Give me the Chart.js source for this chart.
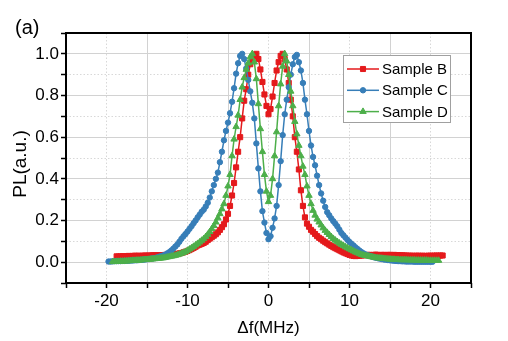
<!DOCTYPE html>
<html><head><meta charset="utf-8">
<script src="https://cdn.jsdelivr.net/npm/chart.js@4.4.0/dist/chart.umd.min.js"></script>
<style>html,body{margin:0;padding:0;background:#fff;overflow:hidden}canvas{display:block}</style>
</head><body>
<canvas id="c" width="508" height="341"></canvas>
<script>
// Frequency detuning (MHz)
const freq = [
  -19.75,-19.5,-19.25,
  -19,-18.75,-18.5,-18.25, -18,-17.75,-17.5,-17.25, -17,-16.75,-16.5,-16.25, -16,-15.75,-15.5,-15.25,
  -15,-14.75,-14.5,-14.25, -14,-13.75,-13.5,-13.25, -13,-12.75,-12.5,-12.25, -12,-11.75,-11.5,-11.25,
  -11,-10.75,-10.5,-10.25, -10,-9.75,-9.5,-9.25, -9,-8.75,-8.5,-8.25,
  -8,-7.75,-7.5,-7.25, -7,-6.75,-6.5,-6.25, -6,-5.75,-5.5,-5.25, -5,-4.75,-4.5,-4.25,
  -4,-3.75,-3.5,-3.25, -3,-2.75,-2.5,-2.25, -2,-1.75,-1.5,-1.25, -1,-0.75,-0.5,-0.25,
  0,0.25,0.5,0.75, 1,1.25,1.5,1.75, 2,2.25,2.5,2.75, 3,3.25,3.5,3.75,
  4,4.25,4.5,4.75, 5,5.25,5.5,5.75, 6,6.25,6.5,6.75, 7,7.25,7.5,7.75, 8,
  8.25,8.5,8.75,
  9,9.25,9.5,9.75, 10,10.25,10.5,10.75, 11,11.25,11.5,11.75, 12,12.25,12.5,12.75,
  13,13.25,13.5,13.75, 14,14.25,14.5,14.75, 15,15.25,15.5,15.75, 16,16.25,16.5,16.75,
  17,17.25,17.5,17.75, 18,18.25,18.5,18.75, 19,19.25,19.5,19.75, 20,20.25,20.5,20.75,
  21,21.25,21.5
];
const sampleB = [
  null,null,null,
  null,0.028,0.027,0.028, 0.029,0.028,0.029,0.03, 0.029,0.03,0.031,0.03, 0.031,0.03,0.031,0.032,
  0.031,0.032,0.032,0.033, 0.033,0.033,0.034,0.034, 0.034,0.035,0.035,0.036, 0.037,0.038,0.039,0.04,
  0.042,0.044,0.047,0.05, 0.054,0.058,0.063,0.068, 0.074,0.08,0.084,0.088,
  0.092,0.098,0.106,0.113, 0.12,0.127,0.134,0.143, 0.155,0.168,0.182,0.205, 0.232,0.27,0.32,0.38,
  0.455,0.53,0.6,0.69, 0.775,0.83,0.9,0.95, 0.975,0.99,1.0,0.975, 0.925,0.865,0.805,0.75,
  0.71,0.735,0.795,0.86, 0.92,0.96,0.99,1.0, 0.975,0.925,0.86,0.78, 0.7,0.6,0.53,0.445,
  0.345,0.27,0.215,0.185, 0.17,0.155,0.146,0.135, 0.125,0.117,0.11,0.103, 0.096,0.09,0.084,0.078, 0.072,
  0.067,0.062,0.057,
  0.052,0.047,0.043,0.039, 0.035,0.032,0.03,0.029, 0.03,0.031,0.032,0.033, 0.034,0.035,0.035,0.034,
  0.035,0.036,0.035,0.034, 0.035,0.035,0.034,0.035, 0.035,0.034,0.035,0.034, 0.034,0.033,0.033,0.032,
  0.032,0.031,0.031,0.031, 0.03,0.031,0.031,0.03, 0.031,0.03,0.03,0.031, 0.031,0.031,0.031,0.032,
  0.031,0.032,0.032
];
const sampleC = [
  0.003,0.003,0.004,
  0.005,0.005,0.005,0.005, 0.006,0.006,0.007,0.007, 0.008,0.008,0.009,0.009, 0.01,0.011,0.012,0.013,
  0.014,0.015,0.017,0.018, 0.02,0.023,0.026,0.029, 0.032,0.036,0.042,0.048, 0.056,0.065,0.075,0.085,
  0.098,0.112,0.124,0.135, 0.147,0.16,0.173,0.187, 0.2,0.215,0.228,0.242,
  0.252,0.267,0.285,0.31, 0.34,0.37,0.40,0.43, 0.48,0.53,0.585,0.63, 0.67,0.715,0.77,0.835,
  0.905,0.955,0.99,1.0, 0.975,0.93,0.875,0.82, 0.765,0.69,0.57,0.45, 0.34,0.245,0.19,0.14,
  0.11,0.125,0.165,0.21, 0.27,0.37,0.485,0.61, 0.71,0.78,0.84,0.9, 0.95,0.985,0.995,0.96,
  0.92,0.86,0.78,0.71, 0.63,0.56,0.505,0.465, 0.415,0.37,0.33,0.295, 0.265,0.24,0.225,0.21, 0.197,
  0.185,0.172,0.156,
  0.14,0.129,0.118,0.107, 0.097,0.088,0.08,0.071, 0.063,0.055,0.048,0.042, 0.037,0.033,0.03,0.027,
  0.024,0.021,0.019,0.017, 0.015,0.013,0.012,0.01, 0.009,0.008,0.007,0.006, 0.005,0.005,0.004,0.004,
  0.003,0.003,0.003,0.003, 0.002,0.002,0.002,0.002, 0.002,0.002,0.002,0.002, 0.002,0.002,null,null,
  null,null,null
];
const sampleD = [
  null,null,0.002,
  0.002,0.003,0.003,0.004, 0.004,0.005,0.005,0.006, 0.007,0.008,0.008,0.009, 0.009,0.01,0.011,0.012,
  0.012,0.013,0.014,0.015, 0.016,0.017,0.018,0.019, 0.02,0.022,0.024,0.026, 0.028,0.03,0.032,0.035,
  0.038,0.042,0.046,0.05, 0.056,0.062,0.068,0.075, 0.082,0.089,0.096,0.104,
  0.112,0.122,0.133,0.146, 0.16,0.175,0.192,0.212, 0.232,0.255,0.28,0.32, 0.365,0.42,0.51,0.59,
  0.65,0.705,0.78,0.84, 0.885,0.925,0.955,0.985, 1.0,0.96,0.88,0.76, 0.64,0.53,0.42,0.34,
  0.29,0.32,0.40,0.51, 0.625,0.75,0.855,0.94, 1.0,0.965,0.9,0.82, 0.75,0.675,0.615,0.56,
  0.51,0.46,0.42,0.365, 0.32,0.28,0.248,0.225, 0.206,0.192,0.178,0.164, 0.152,0.142,0.132,0.122, 0.113,
  0.105,0.098,0.091,
  0.085,0.079,0.073,0.068, 0.063,0.058,0.053,0.048, 0.044,0.04,0.036,0.033, 0.031,0.029,0.027,0.025,
  0.023,0.021,0.02,0.019, 0.018,0.017,0.016,0.015, 0.014,0.013,0.013,0.012, 0.012,0.011,0.011,0.011,
  0.011,0.01,0.01,0.01, 0.01,0.009,0.009,0.009, 0.009,0.009,0.009,0.008, 0.008,0.008,0.008,0.008,
  0.008,null,null
];
const seriesNames = ['Sample B','Sample C','Sample D'];
const xTickLabels = [-20,-10,0,10,20];
const yTickLabels = ['0.0','0.2','0.4','0.6','0.8','1.0'];

const FONT = "'Liberation Sans', Arial, sans-serif";
Chart.defaults.font.family = FONT;
Chart.defaults.color = '#000';

function pts(ys){ const out=[]; freq.forEach((x,i)=>{ if(ys[i]!==null && ys[i]!==undefined) out.push({x:x,y:ys[i]}); }); return out; }

const styles = [
  {color:'#E41A1C', pointStyle:'rect', r:3.6, order:3},
  {color:'#377EB8', pointStyle:'circle', r:2.7, order:2},
  {color:'#4DAF4A', pointStyle:'triangle', r:3.7, order:1}
];
const seriesData = [sampleB, sampleC, sampleD];

const datasets = seriesData.map((ys,i)=>({
  label: seriesNames[i], data: pts(ys),
  borderColor: styles[i].color, backgroundColor: styles[i].color,
  pointBackgroundColor: styles[i].color, pointBorderColor: styles[i].color,
  pointStyle: styles[i].pointStyle, pointRadius: styles[i].r, pointBorderWidth: 1,
  borderWidth: 1.5, tension: 0, order: styles[i].order, fill:false
}));

const SOLID = '#d2d2d2', DOTTED = '#d8d8d8';
function xMinor(ctx){ return ctx.tick && Math.round(ctx.tick.value) % 10 === 0; }
function yMinor(ctx){ return ctx.tick && Math.abs(Math.round(ctx.tick.value*10)) % 2 === 1; }

const framePlugin = {
  id:'frameLegend',
  afterDraw(chart){
    const ctx = chart.ctx, a = chart.chartArea;
    ctx.save();
    ctx.strokeStyle = '#000'; ctx.lineWidth = 2;
    ctx.strokeRect(a.left, a.top, a.right - a.left, a.bottom - a.top);
    const bx = 343.5, by = 55.5, bw = 107, bh = 67;
    ctx.fillStyle = '#fff'; ctx.fillRect(bx, by, bw, bh);
    ctx.strokeStyle = '#a0a0a0'; ctx.lineWidth = 1; ctx.strokeRect(bx, by, bw, bh);
    chart.data.datasets.forEach((ds, i) => {
      const y = 69 + i * 21.3;
      ctx.strokeStyle = ds.borderColor; ctx.lineWidth = 1.5;
      ctx.beginPath(); ctx.moveTo(347, y); ctx.lineTo(379, y); ctx.stroke();
      ctx.fillStyle = ds.pointBackgroundColor; ctx.strokeStyle = ds.pointBorderColor; ctx.lineWidth = 1;
      if (Chart.helpers && Chart.helpers.drawPoint) {
        Chart.helpers.drawPoint(ctx, {pointStyle: ds.pointStyle, radius: ds.pointRadius, rotation: 0, borderWidth: 1}, 363, y);
      }
      ctx.fillStyle = '#000'; ctx.font = '15px ' + FONT;
      ctx.textAlign = 'left'; ctx.textBaseline = 'middle';
      ctx.fillText(ds.label, 382, y + 1);
    });
    ctx.fillStyle = '#000'; ctx.font = '20px ' + FONT;
    ctx.textAlign = 'left'; ctx.textBaseline = 'alphabetic';
    ctx.fillText('(a)', 15, 34);
    ctx.save();
    ctx.translate(21, 164); ctx.rotate(-Math.PI/2);
    ctx.font = '19px ' + FONT; ctx.textAlign = 'center'; ctx.textBaseline = 'middle';
    ctx.fillText('PL(a.u.)', 0, 0);
    ctx.restore();
    ctx.restore();
  }
};

new Chart(document.getElementById('c'), {
  type: 'line',
  data: { datasets },
  options: {
    responsive: false, animation: false, events: [],
    layout: { padding: { left: 0, top: 33, right: 37, bottom: 0 } },
    plugins: { legend: { display: false }, tooltip: { enabled: false } },
    scales: {
      x: {
        type: 'linear', min: -25, max: 25,
        afterFit(s){ s.height = 58; },
        ticks: { stepSize: 5, autoSkip: false, maxRotation: 0, padding: 3, color: '#000',
          font: { size: 17 },
          callback: v => xTickLabels.includes(Math.round(v)) && Math.abs(v - Math.round(v)) < 1e-6 ? String(Math.round(v)) : '' },
        grid: { color: c => xMinor(c) ? DOTTED : SOLID, lineWidth: 1, tickColor: '#000', tickLength: 5, tickWidth: 1.5 },
        border: { display: false, dash: c => xMinor(c) ? [1.5, 2] : [] },
        title: { display: true, text: 'Δf(MHz)', color: '#000', font: { size: 17 }, padding: { top: 0, bottom: 2 } }
      },
      y: {
        type: 'linear', min: -0.1, max: 1.1,
        afterFit(s){ s.width = 66; },
        ticks: { stepSize: 0.1, autoSkip: false, maxTicksLimit: 50, padding: 2, color: '#000',
          font: { size: 17 },
          callback: v => { const t = (Math.round(v*10)/10).toFixed(1); return yTickLabels.includes(t) ? t : ''; } },
        grid: { color: c => yMinor(c) ? DOTTED : SOLID, lineWidth: 1, tickColor: '#000', tickLength: 5, tickWidth: 1.5 },
        border: { display: false, dash: c => yMinor(c) ? [1.5, 2] : [] }
      }
    }
  },
  plugins: [framePlugin]
});
</script>
</body></html>
